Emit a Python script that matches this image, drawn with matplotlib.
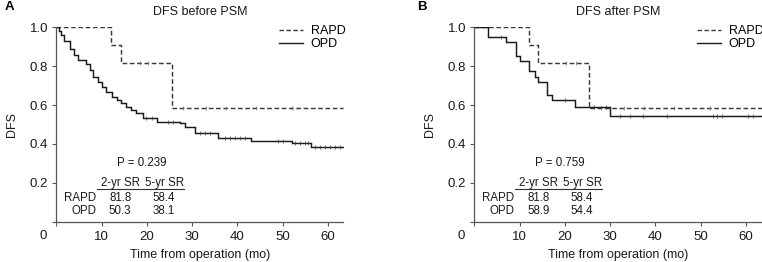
import numpy as np
import matplotlib
matplotlib.use('Agg')
import matplotlib.pyplot as plt
from matplotlib.lines import Line2D

plt.rcParams['font.family'] = ['Liberation Sans', 'DejaVu Sans']

# ---------------- data ----------------
titles = ["DFS before PSM", "DFS after PSM"]
panel_letters = ["A", "B"]
p_values = ["0.239", "0.759"]
groups = ["RAPD", "OPD"]
sr2_A = [81.8, 50.3]
sr5_A = [58.4, 38.1]
sr2_B = [81.8, 58.9]
sr5_B = [58.4, 54.4]

end_time = 63.4

# RAPD (panel A)
rapdA_t = [0, 12.1, 14.3, 25.5]
rapdA_s = [1.0, 0.909, 0.818, 0.584]
rapdA_c = [18.5, 20.2, 28.0, 33.0, 37.5, 44.0, 52.0]

# OPD (panel A)
opdA_t = [0, 0.5, 1.0, 1.6, 3.0, 3.9, 4.9, 6.6, 7.5, 8.2, 9.1, 10.0, 11.0, 12.2,
          13.3, 14.2, 15.4, 16.6, 17.7, 19.2, 22.3, 27.3, 28.4, 30.6, 35.8, 42.9,
          52.0, 56.2]
opdA_s = [1.0, 0.98, 0.96, 0.93, 0.887, 0.858, 0.832, 0.81, 0.78, 0.746, 0.72,
          0.691, 0.669, 0.643, 0.626, 0.609, 0.592, 0.575, 0.557, 0.535, 0.514,
          0.506, 0.489, 0.458, 0.432, 0.417, 0.403, 0.386]
opdA_c = [19.9, 21.1, 24.7, 25.8, 31.7, 32.8, 33.9, 37.2, 38.3, 39.4, 40.5, 41.6,
          49.0, 50.0, 52.7, 53.8, 54.9, 55.6, 57.1, 58.2, 59.3, 60.4, 61.5, 62.6]

# RAPD (panel B)
rapdB_t = [0, 12.0, 14.0, 25.4]
rapdB_s = [1.0, 0.909, 0.818, 0.584]
rapdB_c = [20.2, 22.5, 28.0, 33.0, 37.5, 44.0, 52.0]

# OPD (panel B)
opdB_t = [0, 3.0, 7.1, 9.1, 10.0, 12.0, 13.3, 14.0, 16.0, 17.1, 22.2, 30.0]
opdB_s = [1.0, 0.95, 0.925, 0.85, 0.825, 0.775, 0.745, 0.72, 0.65, 0.625, 0.589, 0.544]
opdB_c = [6.0, 20.0, 26.5, 29.0, 32.2, 34.4, 37.3, 42.5, 52.8, 53.5, 54.6, 60.5, 61.6]

xticks = [0, 10, 20, 30, 40, 50, 60]
yticks = [0, 0.2, 0.4, 0.6, 0.8, 1.0]

# ---------------- style ----------------
W, H = 762, 262
fig = plt.figure(figsize=(W / 100, H / 100), dpi=100)
FS = 9
TFS = 9.5
spine_col = '#555555'
rapd_col = '#3a3a3a'
opd_col = '#1a1a1a'
txt_col = '#1a1a1a'


def px_axes(left, top, right, bottom):
    return [left / W, 1 - bottom / H, (right - left) / W, (bottom - top) / H]


def km(ax, t, s, c, color, ls, cens_col):
    tt = list(t) + [end_time]
    ss = list(s) + [s[-1]]
    line, = ax.step(tt, ss, where='post', color=color, lw=1.05, linestyle=ls,
                    solid_joinstyle='miter')
    if ls == '--':
        line.set_dashes((3.2, 1.8))
    idx = np.searchsorted(np.array(t), np.array(c), side='right') - 1
    ax.plot(c, np.array(s)[idx], linestyle='none', marker='|', ms=2.4, mew=0.55,
            color=cens_col)


panels = [
    (px_axes(56.3, 27.3, 343.5, 221.7), rapdA_t, rapdA_s, rapdA_c, opdA_t, opdA_s, opdA_c, sr2_A, sr5_A),
    (px_axes(474.3, 27.3, 761.5, 221.7), rapdB_t, rapdB_s, rapdB_c, opdB_t, opdB_s, opdB_c, sr2_B, sr5_B),
]

for i, (rect, rt, rs, rc, ot, os_, oc, sr2, sr5) in enumerate(panels):
    ax = fig.add_axes(rect)
    km(ax, rt, rs, rc, rapd_col, '--', '#777777')
    km(ax, ot, os_, oc, opd_col, '-', '#444444')
    ax.set_xlim(0, end_time)
    ax.set_ylim(0, 1.0)
    for sp in ['top', 'right']:
        ax.spines[sp].set_visible(False)
    for sp in ['left', 'bottom']:
        ax.spines[sp].set_color(spine_col)
        ax.spines[sp].set_linewidth(0.9)
    ax.set_xticks(xticks)
    ax.set_xticklabels([''] + [str(v) for v in xticks[1:]])
    ax.set_yticks(yticks)
    ax.set_yticklabels([''] + ['%.1f' % v for v in yticks[1:]])
    ax.tick_params(direction='out', length=3, width=0.8, color=spine_col,
                   labelsize=TFS, pad=3, labelcolor=txt_col)
    ax.tick_params(axis='x', pad=4)
    ax.annotate('0', xy=(0, 0), xycoords='data', xytext=(-13.5 * 0.72, -14.0 * 0.72),
                textcoords='offset points', ha='center', va='center', fontsize=TFS,
                color=txt_col, annotation_clip=False)
    ax.set_xlabel('Time from operation (mo)', fontsize=FS, labelpad=4, color=txt_col)
    ax.set_ylabel('DFS', fontsize=FS, labelpad=8, color=txt_col)
    ax.set_title(titles[i], fontsize=FS, pad=9, color=txt_col)

    handles = [Line2D([], [], color=rapd_col, lw=1.0, linestyle='--', dashes=(3.2, 1.8)),
               Line2D([], [], color=opd_col, lw=1.0)]
    leg = ax.legend(handles, groups, loc='upper left', bbox_to_anchor=(0.777, 1.012),
                    frameon=False, fontsize=FS, handlelength=1.85, handletextpad=0.65,
                    labelspacing=0.1, borderpad=0, borderaxespad=0)
    leg.set_clip_on(False)

    # P value & table
    ax.text(18.85, 0.302, 'P = ' + p_values[i], ha='center', va='center', fontsize=8.3,
            color=txt_col)
    ax.text(14.1, 0.2, '2-yr SR', ha='center', va='center', fontsize=8.3, color=txt_col)
    ax.text(23.8, 0.2, '5-yr SR', ha='center', va='center', fontsize=8.3, color=txt_col)
    ax.plot([8.9, 28.3], [0.167, 0.167], color='#333333', lw=0.8)
    row_y = [0.12, 0.057]
    for g, y, a, b in zip(groups, row_y, sr2, sr5):
        ax.text(8.9, y, g, ha='right', va='center', fontsize=8.3, color=txt_col)
        ax.text(14.1, y, '%.1f' % a, ha='center', va='center', fontsize=8.3, color=txt_col)
        ax.text(23.8, y, '%.1f' % b, ha='center', va='center', fontsize=8.3, color=txt_col)

fig.text(5 / W, 1 - 7.5 / H, panel_letters[0], fontsize=9.5, fontweight='bold',
         ha='left', va='center')
fig.text(417 / W, 1 - 7.5 / H, panel_letters[1], fontsize=9.5, fontweight='bold',
         ha='left', va='center')

fig.savefig('out.png', dpi=100)
